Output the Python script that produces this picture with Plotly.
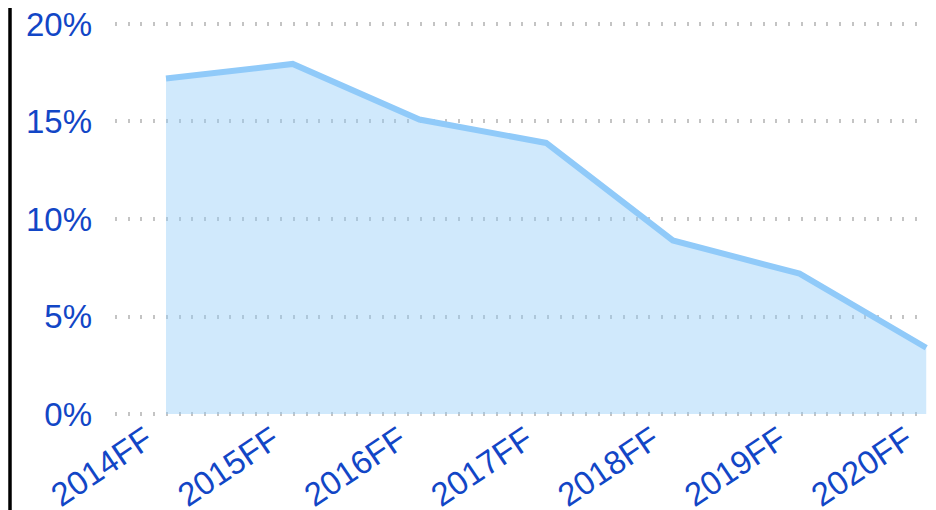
import plotly.graph_objects as go

categories = ["2014FF", "2015FF", "2016FF", "2017FF", "2018FF", "2019FF", "2020FF"]
values = [17.2, 17.95, 15.1, 13.9, 8.9, 7.2, 3.4]
y_ticks = [0, 5, 10, 15, 20]
y_tick_labels = ["0%", "5%", "10%", "15%", "20%"]

text_color = "#1246c6"

fig = go.Figure()
fig.add_trace(go.Scatter(
    x=list(range(len(categories))),
    y=values,
    mode="lines",
    line=dict(color="#90caf9", width=6),
    fill="tozeroy",
    fillcolor="rgba(144,202,249,0.42)",
    hoverinfo="skip",
    cliponaxis=False,
))

fig.update_layout(
    width=928,
    height=502,
    margin=dict(l=107, r=0, t=14, b=94),
    paper_bgcolor="white",
    plot_bgcolor="white",
    showlegend=False,
    font=dict(family="Liberation Sans, Arial, sans-serif", size=33, color=text_color),
    xaxis=dict(
        tickmode="array",
        tickvals=list(range(len(categories))),
        ticktext=categories,
        range=[-0.4025, 6.077],
        showgrid=False,
        zeroline=False,
        showline=False,
        ticks="",
        tickangle=-34,
        automargin=False,
        ticklabeloverflow="allow",
        ticklabelshift=-20,
        ticklabelstandoff=-3,
        tickfont=dict(size=33, color=text_color),
    ),
    yaxis=dict(
        range=[-0.1, 20.1],
        tickmode="array",
        tickvals=y_ticks,
        ticktext=y_tick_labels,
        showgrid=True,
        gridcolor="#c4c4c4",
        gridwidth=4,
        griddash="2px,10.7px",
        zeroline=False,
        showline=False,
        ticks="",
        automargin=False,
        ticklabelstandoff=22,
        ticklabeloverflow="allow",
        tickfont=dict(size=33, color=text_color),
    ),
    shapes=[dict(
        type="line", xref="paper", yref="paper",
        x0=-105 / 821, x1=-105 / 821, y0=-2, y1=2,
        line=dict(color="black", width=3.5),
    )],
)

fig.write_html("out.html")
